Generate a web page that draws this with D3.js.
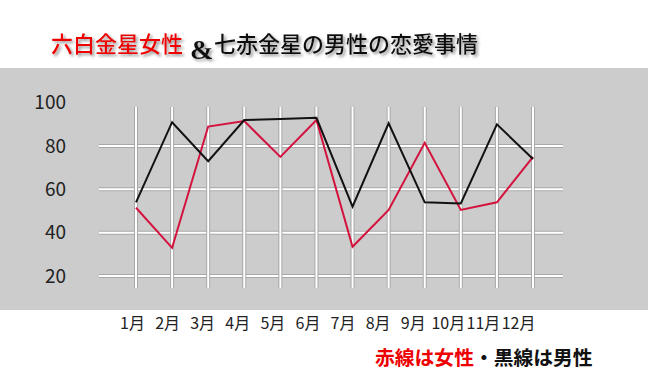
<!DOCTYPE html>
<html>
<head>
<meta charset="utf-8">
<script src="https://cdn.jsdelivr.net/npm/d3@7"></script>
<style>
  body { margin: 0; background: #fff; }
  svg { display: block; }
  .ylab text { font: 19px "Noto Sans CJK JP", sans-serif; fill: #222; }
  .xlab text { font: 16px "Noto Sans CJK JP", sans-serif; fill: #222; }
</style>
</head>
<body>
<div id="chart"></div>
<script>
var months = ["1月","2月","3月","4月","5月","6月","7月","8月","9月","10月","11月","12月"];
var female = [51.5, 33, 89, 91.5, 75, 92, 33.5, 50.5, 81.5, 50.5, 54, 75];
var male = [54, 91, 73, 92, 92.5, 93, 52, 90.5, 54, 53.5, 90, 74];
var yTicks = [20, 40, 60, 80, 100];
var gridTicks = [20, 40, 60, 80];

var width = 648, height = 388;

var svg = d3.select("#chart").append("svg")
  .attr("width", width)
  .attr("height", height);

var defs = svg.append("defs");
var f = defs.append("filter").attr("id", "shadow")
  .attr("x", "-10%").attr("y", "-20%").attr("width", "130%").attr("height", "160%");
f.append("feDropShadow")
  .attr("dx", 2).attr("dy", 2).attr("stdDeviation", 1.4)
  .attr("flood-color", "#777").attr("flood-opacity", 0.8);

// gray panel
svg.append("rect")
  .attr("x", 0).attr("y", 68)
  .attr("width", width).attr("height", 242)
  .attr("fill", "#cccccc");

var x = d3.scalePoint().domain(months).range([136, 533]);
var xLabel = d3.scalePoint().domain(months).range([132, 518]);
var y = d3.scaleLinear().domain([20, 100]).range([276, 102.7]);

// grid
var grid = svg.append("g");
function gridLine(sel) {
  sel.append("line").attr("stroke", "#a8a8a8").attr("stroke-width", 4);
  sel.append("line").attr("stroke", "#fff").attr("stroke-width", 2);
}
var hg = grid.selectAll(".h").data(gridTicks).enter().append("g").attr("class", "h");
gridLine(hg);
hg.selectAll("line")
  .attr("x1", 99).attr("x2", 563)
  .attr("y1", function(d) { return y(d); })
  .attr("y2", function(d) { return y(d); });

var vg = grid.selectAll(".v").data(months).enter().append("g").attr("class", "v");
gridLine(vg);
vg.selectAll("line")
  .attr("x1", function(d) { return x(d); })
  .attr("x2", function(d) { return x(d); })
  .attr("y1", 107).attr("y2", 288);
// white on top of all gray edges
grid.selectAll("line[stroke='#fff']").raise();

// axes
var yAxis = svg.append("g")
  .attr("class", "ylab")
  .attr("transform", "translate(66,0)")
  .call(d3.axisLeft(y).tickValues(yTicks).tickSize(0).tickPadding(0));
yAxis.select(".domain").remove();

var xAxis = svg.append("g")
  .attr("class", "xlab")
  .attr("transform", "translate(0,318)")
  .call(d3.axisBottom(xLabel).tickSize(0).tickPadding(0));
xAxis.select(".domain").remove();

// lines
var line = d3.line()
  .x(function(d, i) { return x(months[i]); })
  .y(function(d) { return y(d); });

svg.append("path").datum(female)
  .attr("fill", "none").attr("stroke", "#d3123d").attr("stroke-width", 2)
  .attr("d", line);
svg.append("path").datum(male)
  .attr("fill", "none").attr("stroke", "#111").attr("stroke-width", 2)
  .attr("d", line);

// title
var title = svg.append("g").attr("filter", "url(#shadow)");
title.append("text")
  .attr("x", 51).attr("y", 52)
  .attr("font-family", "'Noto Sans CJK JP', sans-serif")
  .attr("font-size", 22)
  .attr("font-weight", 500)
  .attr("fill", "#e00")
  .text("六白金星女性");
title.append("text")
  .attr("x", 190).attr("y", 59)
  .attr("font-family", "'Liberation Serif', serif")
  .attr("font-weight", "bold")
  .attr("font-size", 28)
  .attr("fill", "#111")
  .text("&");
title.append("text")
  .attr("x", 214).attr("y", 52)
  .attr("font-family", "'Noto Sans CJK JP', sans-serif")
  .attr("font-size", 22)
  .attr("font-weight", 500)
  .attr("fill", "#111")
  .text("七赤金星の男性の恋愛事情");

// legend note
var note = svg.append("text")
  .attr("x", 375).attr("y", 365)
  .attr("font-family", "'Noto Sans CJK JP', sans-serif")
  .attr("font-size", 19.8)
  .attr("font-weight", "bold");
note.append("tspan").attr("fill", "#e00").text("赤線は女性");
note.append("tspan").attr("fill", "#111").text("・黒線は男性");
</script>
</body>
</html>
